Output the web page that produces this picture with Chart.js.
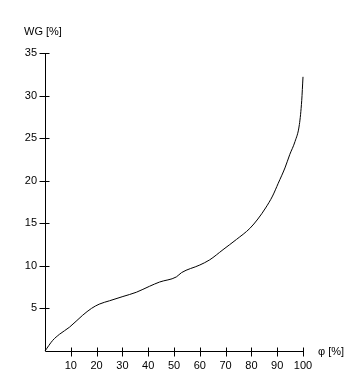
<!DOCTYPE html>
<html>
<head>
<meta charset="utf-8">
<script src="https://cdn.jsdelivr.net/npm/chart.js@4/dist/chart.umd.min.js"></script>
<style>
html,body{margin:0;padding:0;background:#fff;}
#wrap{position:relative;width:351px;height:389px;}
</style>
</head>
<body>
<div id="wrap"><canvas id="c" width="351" height="389"></canvas></div>
<script>
// Data
const phi = [0, 3, 5.6, 9.5, 14.6, 18, 21, 25, 30.2, 35.4, 40.5, 44.4, 50.9, 52.9, 60, 63.8, 69, 74.2, 79.4, 82.5, 85.5, 88.2, 90.4, 93, 94.9, 96.9, 98.6, 99.5, 100];
const wg  = [0, 1.25, 1.96, 2.8, 4.2, 5.0, 5.5, 5.9, 6.4, 6.9, 7.6, 8.1, 8.7, 9.2, 10.1, 10.7, 11.9, 13.1, 14.4, 15.5, 16.8, 18.2, 19.7, 21.5, 23.1, 24.6, 26.6, 29.4, 32.2];
const xTicks = [10, 20, 30, 40, 50, 60, 70, 80, 90, 100];
const yTicks = [5, 10, 15, 20, 25, 30, 35];
const xTitle = "φ [%]";
const yTitle = "WG [%]";

const FONT = "11px 'Liberation Sans', Arial, sans-serif";

const axesPlugin = {
  id: 'axesPlugin',
  afterDraw(chart) {
    const ctx = chart.ctx;
    const xs = chart.scales.x, ys = chart.scales.y;
    const x0 = Math.round(xs.getPixelForValue(0)) + 0.5;
    const y0 = Math.round(ys.getPixelForValue(0)) + 0.5;
    ctx.save();
    ctx.strokeStyle = '#000';
    ctx.lineWidth = 1;
    ctx.beginPath();
    ctx.moveTo(x0, y0);
    ctx.lineTo(x0, Math.round(ys.getPixelForValue(35)) + 0.5);
    ctx.moveTo(x0, y0);
    ctx.lineTo(Math.round(xs.getPixelForValue(100)) + 0.5, y0);
    xTicks.forEach(v => {
      const px = Math.round(xs.getPixelForValue(v)) + 0.5;
      ctx.moveTo(px, y0 - 4);
      ctx.lineTo(px, y0 + 5);
    });
    yTicks.forEach(v => {
      const py = Math.round(ys.getPixelForValue(v)) + 0.5;
      ctx.moveTo(x0 - 6, py);
      ctx.lineTo(x0 + 4, py);
    });
    ctx.stroke();
    ctx.fillStyle = '#000';
    ctx.font = FONT;
    ctx.textBaseline = 'middle';
    ctx.textAlign = 'left';
    ctx.fillText(yTitle, 24, 32);
    ctx.fillText(xTitle, 318, y0);
    ctx.restore();
  }
};

new Chart(document.getElementById('c'), {
  type: 'line',
  data: {
    datasets: [{
      data: phi.map((p, i) => ({x: p, y: wg[i]})),
      borderColor: '#000',
      borderWidth: 1,
      pointRadius: 0,
      cubicInterpolationMode: 'monotone',
      fill: false,
      clip: false
    }]
  },
  options: {
    responsive: false,
    animation: false,
    devicePixelRatio: 1,
    layout: {padding: {top: 53, right: 48, left: 0, bottom: 0}},
    plugins: {legend: {display: false}, tooltip: {enabled: false}},
    scales: {
      x: {
        type: 'linear', min: 0, max: 100,
        afterBuildTicks(s) { s.ticks = xTicks.map(v => ({value: v})); },
        afterFit(s) { s.height = 38; },
        grid: {display: false, drawTicks: false},
        border: {display: false},
        ticks: {color: '#000', font: {family: "'Liberation Sans', Arial, sans-serif", size: 11}, padding: 8, maxRotation: 0, autoSkip: false}
      },
      y: {
        type: 'linear', min: 0, max: 35,
        afterBuildTicks(s) { s.ticks = yTicks.map(v => ({value: v})); },
        afterFit(s) { s.width = 45; },
        grid: {display: false, drawTicks: false},
        border: {display: false},
        ticks: {color: '#000', font: {family: "'Liberation Sans', Arial, sans-serif", size: 11}, padding: 8, autoSkip: false}
      }
    }
  },
  plugins: [axesPlugin]
});
</script>
</body>
</html>
